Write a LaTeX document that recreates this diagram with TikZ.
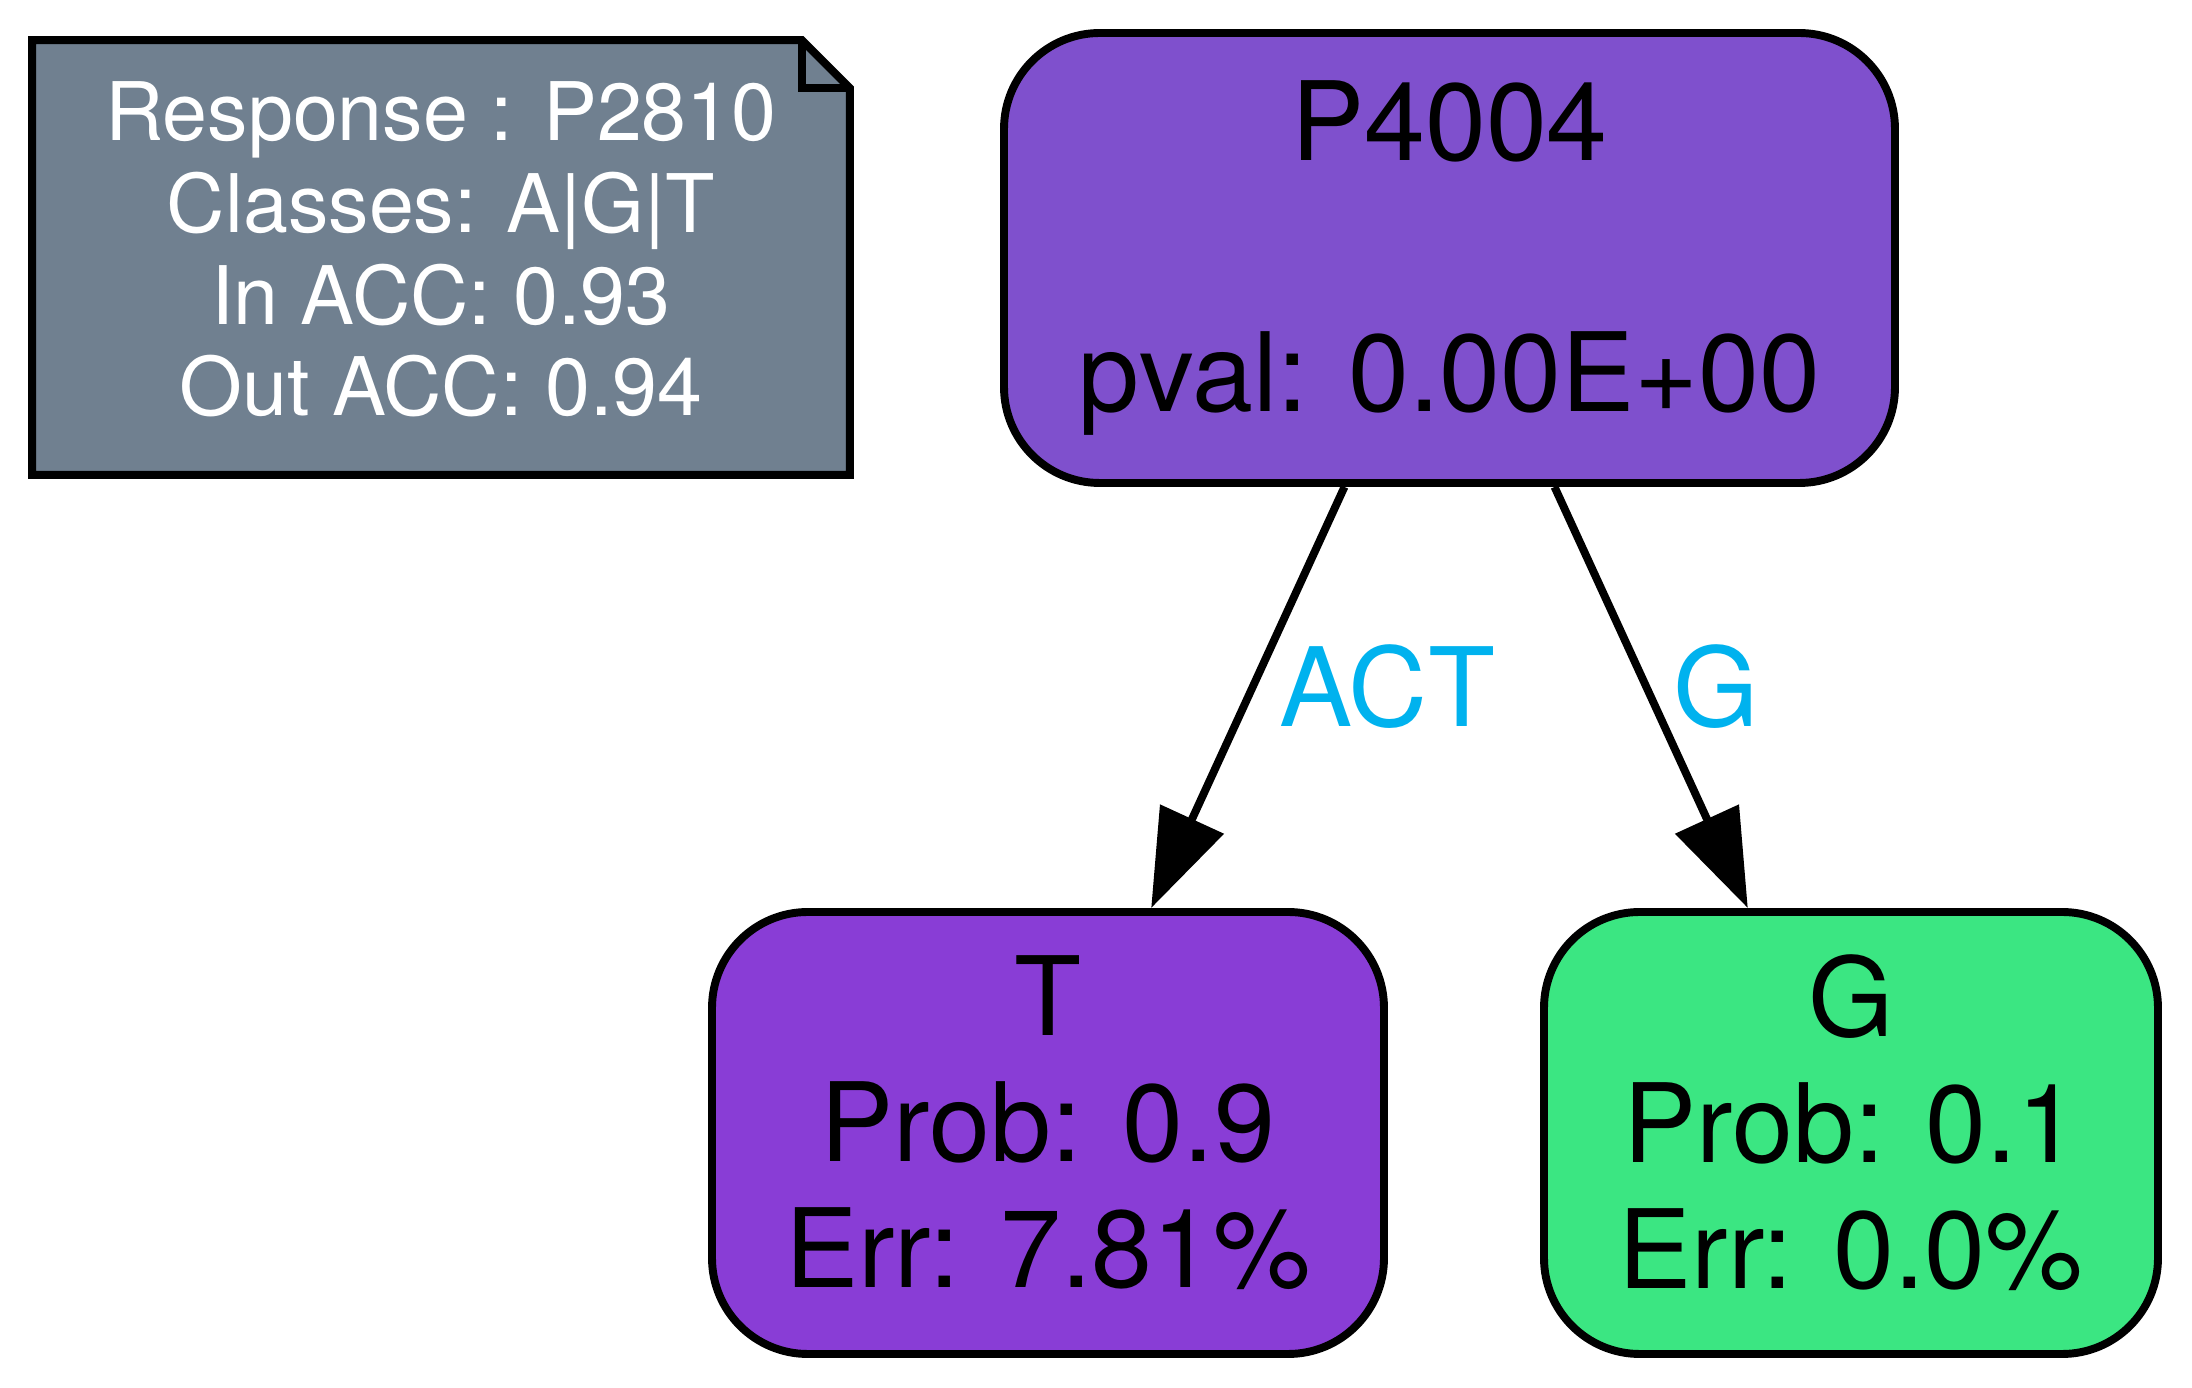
\documentclass[tikz,border=0pt]{standalone}
\usepackage{fontspec}
\setmainfont{TeX Gyre Heros}
\usetikzlibrary{arrows.meta}
\usetikzlibrary{calc}
\usetikzlibrary{backgrounds}

\definecolor{notegray}{RGB}{112,128,144}
\definecolor{splitpurple}{RGB}{127,80,205}
\definecolor{leafpurple}{RGB}{137,61,214}
\definecolor{leafgreen}{RGB}{59,230,130}
\definecolor{edgeblue}{RGB}{0,178,238}
\newcommand{\lastdp}{\rule[-0.21em]{0pt}{0.21em}}

\tikzset{
    bigfont/.style={font=\fontsize{26.3}{30.2}\selectfont},
    notebox/.style={minimum width=195.84pt, minimum height=103.92pt, inner sep=0pt, align=center, text=white, font=\fontsize{19.4}{22}\selectfont},
    treenode/.style={draw, line width=1.9pt, rounded corners=23pt, inner sep=0pt, align=center, bigfont},
    flow/.style={-{Triangle[length=23.5pt,width=16.4pt]}, line width=1.9pt},
    edgelab/.style={text=edgeblue, inner sep=5.5pt, bigfont}
}

\begin{document}
\begin{tikzpicture}[x=0.24pt, y=-0.24pt]
        \useasboundingbox (0,0) rectangle (2192,1388);
        \node[notebox] (resp) at (441,257.5) {Response : P2810\\Classes: A|G|T\\In ACC: 0.93\\Out ACC: 0.94\lastdp};
        \begin{scope}[on background layer]
            \draw[line width=1.9pt, fill=notegray] (resp.north west) -- ($(resp.north east)+(-48,0)$) -- ($(resp.north east)+(0,48)$) -- (resp.south east) -- (resp.south west) -- cycle;
        \end{scope}
        \draw[line width=1.9pt] ($(resp.north east)+(-48,0)$) |- ($(resp.north east)+(0,48)$);
        \node[treenode, fill=splitpurple, minimum width=213.84pt, minimum height=108pt] (split) at (1449.5,258) {P4004\\~\\pval: 0.00E+00\lastdp};
        \node[treenode, fill=leafpurple, minimum width=161.28pt, minimum height=106.08pt] (leafT) at (1048,1133) {T\\Prob: 0.9\\Err: 7.81\%\lastdp};
        \node[treenode, fill=leafgreen, minimum width=147.36pt, minimum height=106.08pt] (leafG) at (1851,1133) {G\\Prob: 0.1\\Err: 0.0\%\lastdp};
        \draw[flow] (split) -- node[edgelab, pos=0.474, right] {ACT} (leafT);
        \draw[flow] (split) -- node[edgelab, pos=0.474, right] {G} (leafG);
    \end{tikzpicture}
\end{document}
